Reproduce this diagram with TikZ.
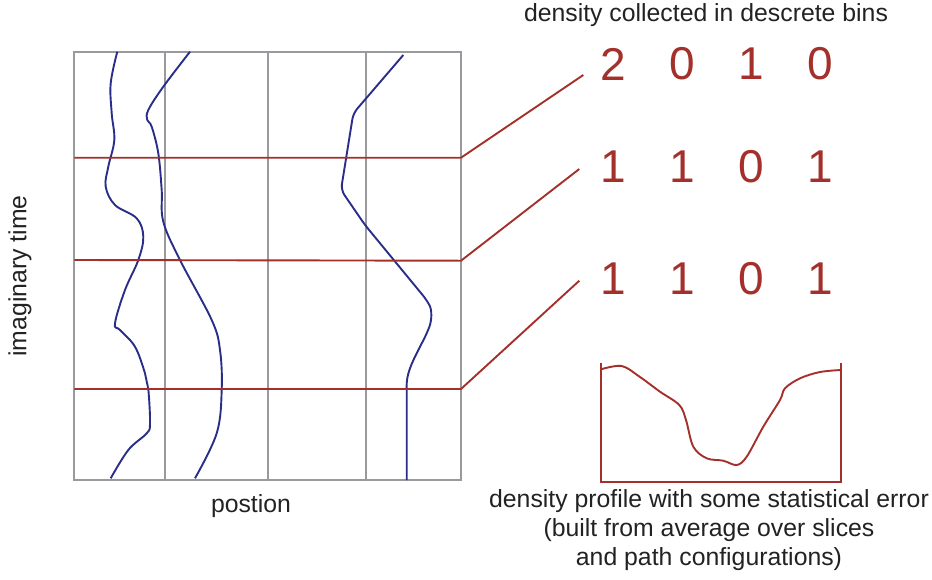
\documentclass[tikz,border=0pt]{standalone}
\usepackage{fontspec}
\setmainfont{Liberation Sans}
\definecolor{gridgray}{HTML}{9A9A9E}
\definecolor{pathblue}{HTML}{2A2E88}
\definecolor{sred}{HTML}{A3302A}
\definecolor{txt}{HTML}{222222}
\begin{document}
\begin{tikzpicture}[x=1pt,y=-1pt,
  grid/.style={draw=gridgray,line width=2pt},
  wl/.style={draw=pathblue,line width=1.9pt,line join=round},
  slice/.style={draw=sred,line width=1.9pt},
  lbl/.style={text=txt,font=\fontsize{24.8}{29}\selectfont,inner sep=0pt},
  num/.style={text=sred,font=\fontsize{46}{50}\selectfont,inner sep=0pt,anchor=center}]
\useasboundingbox (0,0) rectangle (932,579);
% box and grid
\draw[grid] (74.3,51.7) rectangle (461,480);
\foreach \x in {165,268,366.3} \draw[grid] (\x,51.7) -- (\x,480);
% world lines
\draw[wl] plot[smooth,tension=0.6] coordinates {(117.3,51.7) (110.7,83.3) (111.7,113.3) (114.3,140) (108.3,166.7) (105.7,186.7) (115,205) (136.7,218.3) (143.3,236.7) (138.3,260) (125,290) (115,323.3) (120,330) (135,346.7) (145,373.3) (148.3,389) (150,423.3) (146.7,433.3) (128.3,450) (110.7,478.3)};
\draw[wl] plot[smooth,tension=0.6] coordinates {(190,51.7) (163.3,86.7) (148.3,110) (147.3,120) (151.7,126.7) (158.3,153.3) (161.7,190) (163.3,221.7) (180,260) (211.7,320) (220,350) (221.7,390) (216.7,433.3) (195,478.3)};
\draw[wl,rounded corners=6pt] (403.3,55) -- (353.3,113.3) -- (341,190) -- (365,225) -- (426.7,300) .. controls (432,310) and (432,320) .. (427,333) -- (413.3,360) .. controls (406,378) and (406.7,385) .. (406.7,395) -- (406.7,480);
% slices
\coordinate (s1) at (461,157.7);
\coordinate (s2) at (461,260.7);
\coordinate (s3) at (461,389);
\coordinate (e1) at (583.3,75);
\coordinate (e2) at (579.3,169);
\coordinate (e3) at (579.3,280.7);
\draw[slice] (74.3,157.7) -- (s1) -- (e1);
\draw[slice] (74.3,260) -- (s2) -- (e2);
\draw[slice] (74.3,389) -- (s3) -- (e3);
% numbers
\node[num] (r1a) at (613.3,64) {2};
\node[num] (r1b) at (682.3,64) {0};
\node[num] (r1c) at (751.7,64) {1};
\node[num] (r1d) at (820,64) {0};
\node[num] (r2a) at (613.3,166.5) {1};
\node[num] (r2b) at (682.3,166.5) {1};
\node[num] (r2c) at (751.7,166.5) {0};
\node[num] (r2d) at (820,166.5) {1};
\node[num] (r3a) at (613.3,278.5) {1};
\node[num] (r3b) at (682.3,278.5) {1};
\node[num] (r3c) at (751.7,278.5) {0};
\node[num] (r3d) at (820,278.5) {1};
% labels
\node[lbl] (title) at (706,15) {density collected in descrete bins};
\node[lbl] (pos) at (251,506) {postion};
\node[lbl,rotate=90] (time) at (20,276) {imaginary time};
% density profile
\draw[slice] (601,362.7) -- (601,482.3) -- (841,482.3) -- (841,362.7);
\draw[slice] plot[smooth,tension=0.55] coordinates {(601,369.3) (621.7,366) (640,377) (660,391.7) (679.3,405) (686,420) (693.3,446.7) (706.7,458.3) (723.3,460.7) (736.7,465) (746.7,456.7) (763.3,426.7) (780,400) (785,388.3) (800,378.3) (820,372) (841,370)};
\node[lbl,align=center] (prof) at (709,530) {density profile with some statistical error\\(built from average over slices\\and path configurations)};
\end{tikzpicture}
\end{document}
